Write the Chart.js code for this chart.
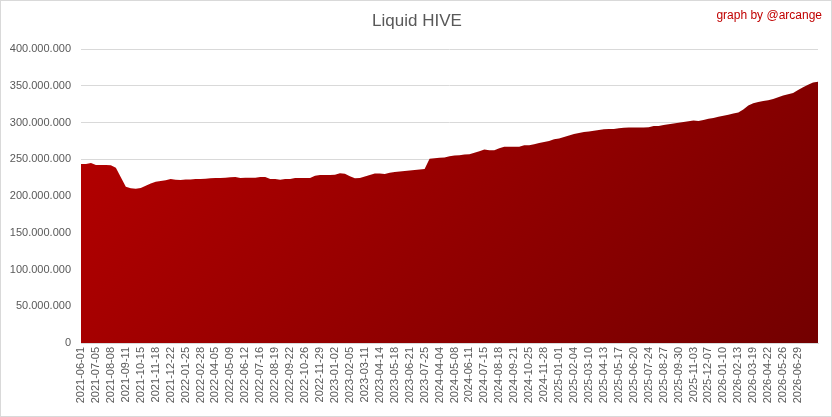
<!DOCTYPE html>
<html>
<head>
<meta charset="utf-8">
<script src="https://cdn.jsdelivr.net/npm/chart.js@4/dist/chart.umd.min.js"></script>
<style>
  html, body { margin: 0; padding: 0; background: #fff; }
  #wrap { position: relative; width: 830px; height: 415px; border: 1px solid #d9d9d9; }
</style>
</head>
<body>
<div id="wrap"><canvas id="liquidChart"></canvas></div>
<script>
// Tick labels shown on the x axis (one every 3 data points)
var tickLabels = [
  '2021-06-01', '2021-07-05', '2021-08-08', '2021-09-11', '2021-10-15', '2021-11-18', '2021-12-22',
  '2022-01-25', '2022-02-28', '2022-04-05', '2022-05-09', '2022-06-12', '2022-07-16', '2022-08-19',
  '2022-09-22', '2022-10-26', '2022-11-29',
  '2023-01-02', '2023-02-05', '2023-03-11', '2023-04-14', '2023-05-18', '2023-06-21', '2023-07-25',
  '2024-04-04', '2024-05-08', '2024-06-11', '2024-07-15', '2024-08-18', '2024-09-21', '2024-10-25',
  '2024-11-28',
  '2025-01-01', '2025-02-04', '2025-03-10', '2025-04-13', '2025-05-17', '2025-06-20', '2025-07-24',
  '2025-08-27', '2025-09-30', '2025-11-03', '2025-12-07',
  '2026-01-10', '2026-02-13', '2026-03-19', '2026-04-22', '2026-05-26', '2026-06-29'
];

// Liquid HIVE, in millions
var liquidMillions = [
  243.7, 243.7, 245.0, 242.3, 242.3, 242.3, 242.0, 238.5, 225.5, 212.5,
  210.5, 210.0, 211.0, 214.0, 217.0, 219.5, 220.5, 221.5, 223.0, 222.0,
  221.8, 222.3, 222.5, 223.0, 223.2, 223.5, 224.0, 224.4, 224.6, 225.0,
  225.5, 226.0, 224.6, 225.0, 225.0, 225.0, 226.0, 226.0, 223.2, 223.2,
  222.0, 223.2, 223.2, 224.6, 224.6, 224.6, 224.6, 227.5, 228.7, 228.7,
  228.7, 229.0, 231.0, 230.2, 227.0, 224.0, 224.5, 226.5, 228.5, 230.5,
  230.5, 230.0, 231.5, 232.7, 233.3, 234.0, 234.7, 235.4, 236.0, 236.7,
  250.8, 251.5, 251.9, 252.5, 254.2, 255.0, 255.6, 256.5, 256.9, 258.7,
  261.0, 263.3, 262.4, 262.4, 265.0, 266.9, 266.9, 266.9, 267.0, 269.2,
  269.2, 270.5, 272.0, 273.5, 275.0, 277.2, 278.4, 280.2, 282.4, 284.2,
  285.8, 287.0, 287.8, 288.7, 289.8, 290.8, 291.0, 291.0, 292.3, 292.8,
  293.3, 293.3, 293.3, 293.3, 293.5, 295.1, 295.1, 296.5, 297.5, 298.5,
  299.5, 300.6, 301.8, 302.7, 302.2, 303.5, 305.0, 306.0, 307.7, 309.2,
  310.7, 312.3, 313.5, 317.8, 323.0, 326.3, 328.0, 329.2, 330.2, 332.0,
  334.5, 336.6, 338.4, 340.0, 344.3, 347.9, 351.5, 354.3, 355.5
];

var yMax = 400000000;
var yStep = 50000000;
var pointsPerTick = 3;

var labels = liquidMillions.map(function (v, i) {
  return i % pointsPerTick === 0 ? (tickLabels[i / pointsPerTick] || '') : '';
});
var values = liquidMillions.map(function (v) { return Math.round(v * 1000000); });

var decorations = {
  id: 'decorations',
  afterDraw: function (chart) {
    var c = chart.ctx;
    c.save();
    c.textBaseline = 'middle';
    c.textAlign = 'center';
    c.fillStyle = '#595959';
    c.font = '17px "Liberation Sans", Arial, sans-serif';
    c.fillText('Liquid HIVE', 416, 20);
    c.textAlign = 'right';
    c.fillStyle = '#c00000';
    c.font = '12px "Liberation Sans", Arial, sans-serif';
    c.fillText('graph by @arcange', 821, 15);
    c.restore();
  }
};

// 45 degree gradient, light red top-left to dark red bottom-right
function areaGradient(context) {
  var area = context.chart.chartArea;
  if (!area) return '#a00000';
  var d = (area.width + area.height) / 2;
  var g = context.chart.ctx.createLinearGradient(area.left, area.top, area.left + d, area.top + d);
  g.addColorStop(0, '#b90000');
  g.addColorStop(1, '#730000');
  return g;
}

var ctx = document.getElementById('liquidChart').getContext('2d');
var liquidChart = new Chart(ctx, {
  type: 'line',
  data: {
    labels: labels,
    datasets: [{
      label: 'Liquid HIVE',
      data: values,
      fill: 'origin',
      backgroundColor: areaGradient,
      borderWidth: 0,
      pointRadius: 0,
      tension: 0
    }]
  },
  options: {
    responsive: true,
    maintainAspectRatio: false,
    animation: false,
    layout: { padding: { top: 48, right: 13, left: 0, bottom: 0 } },
    plugins: {
      legend: { display: false },
      title: { display: false },
      tooltip: { enabled: false }
    },
    scales: {
      x: {
        type: 'category',
        grid: { display: false, drawTicks: false },
        border: { display: true, color: '#d9d9d9' },
        afterFit: function (scale) {
          scale.height = 73;
          scale.paddingRight = 0;
          scale.paddingLeft = 0;
        },
        ticks: {
          autoSkip: false,
          maxRotation: 90,
          minRotation: 90,
          padding: 4,
          color: '#595959',
          font: { family: '"Liberation Sans", Arial, sans-serif', size: 11 }
        }
      },
      y: {
        min: 0,
        max: yMax,
        grid: { color: '#d9d9d9', drawTicks: false },
        border: { display: false },
        afterFit: function (scale) { scale.width = 80; },
        ticks: {
          stepSize: yStep,
          padding: 10,
          color: '#595959',
          font: { family: '"Liberation Sans", Arial, sans-serif', size: 11 },
          callback: function (value) {
            return value.toLocaleString('de-DE');
          }
        }
      }
    }
  },
  plugins: [decorations]
});
</script>
</body>
</html>
